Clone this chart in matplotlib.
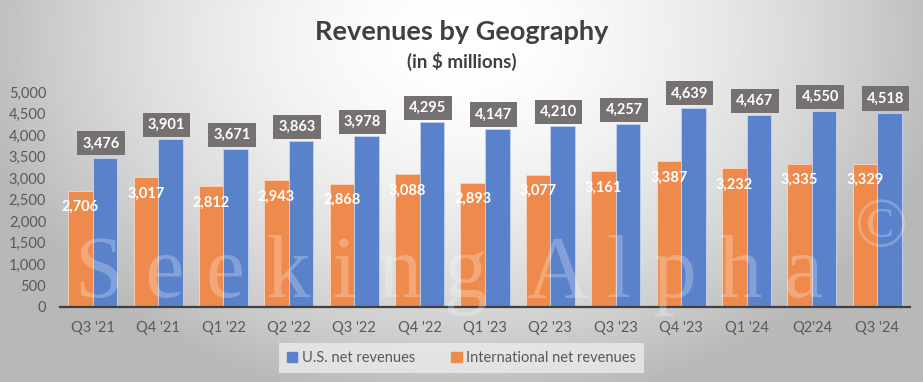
import numpy as np
import matplotlib.pyplot as plt
from matplotlib.patches import Patch

quarters = ["Q3 '21", "Q4 '21", "Q1 '22", "Q2 '22", "Q3 '22", "Q4 '22", "Q1 '23",
            "Q2 '23", "Q3 '23", "Q4 '23", "Q1 '24", "Q2'24", "Q3 '24"]
us_rev = [3476, 3901, 3671, 3863, 3978, 4295, 4147, 4210, 4257, 4639, 4467, 4550, 4518]
intl_rev = [2706, 3017, 2812, 2943, 2868, 3088, 2893, 3077, 3161, 3387, 3232, 3335, 3329]

blue = '#5A82CB'
orange = '#EE8B4C'

plt.rcParams['font.family'] = ['Lato', 'DejaVu Sans']

fig = plt.figure(figsize=(9.23, 3.82), dpi=100)

# radial gray background
bg = fig.add_axes([0, 0, 1, 1])
yy, xx = np.mgrid[0:1:200j, 0:1:400j]
d = np.sqrt(((xx - 0.5) / 0.55) ** 2 + ((yy - 0.1) / 1.0) ** 2)
shade = np.clip(1 - 0.29 * d ** 1.7, 0.72, 1)
bg.imshow(shade, cmap='gray', vmin=0, vmax=1, aspect='auto', extent=[0, 1, 1, 0])
bg.axis('off')

ax = fig.add_axes([60 / 923, 75 / 382, 850 / 923, 215 / 382])
ax.patch.set_alpha(0)

x = np.arange(len(quarters))
w = 0.375
ax.bar(x - w / 2, intl_rev, w, color=orange, edgecolor='#F6D8C4', linewidth=0.6, zorder=2)
ax.bar(x + w / 2, us_rev, w, color=blue, edgecolor='#C5D3EE', linewidth=0.6, zorder=2)

for i in range(len(quarters)):
    ax.text(x[i] + w / 2 - 0.06, us_rev[i] + 330, f"{us_rev[i]:,}", ha='center', va='center',
            color='white', fontsize=10.5, fontweight='bold', zorder=4, clip_on=False,
            bbox=dict(boxstyle='square,pad=0.35', fc='#767171', ec='none'))
    ax.text(x[i] - w / 2, intl_rev[i] - 380, f"{intl_rev[i]:,}", ha='center', va='center',
            color='white', fontsize=10.5, fontweight='bold', zorder=4)

# watermark
fig.text(75 / 923, 85 / 382, "S e e k i n g  A l p h a", fontsize=63,
         family='Liberation Serif', color='white', alpha=0.25, ha='left', va='baseline', zorder=3)
fig.text(0.955, 0.40, "\u00a9", fontsize=50,
         family='Liberation Serif', color='white', alpha=0.25, ha='center', va='center', zorder=3)

ax.set_xlim(-0.5, len(quarters) - 0.5)
ax.set_ylim(0, 5000)
ax.set_yticks(np.arange(0, 5001, 500))
ax.set_yticklabels([f"{v:,}" for v in range(0, 5001, 500)])
ax.set_xticks(x)
ax.set_xticklabels(quarters)
ax.tick_params(axis='both', length=0, labelsize=10.5, colors='#595959')
ax.tick_params(axis='x', pad=10)
ax.tick_params(axis='y', pad=10)
for s in ['top', 'right', 'left']:
    ax.spines[s].set_visible(False)
ax.spines['bottom'].set_color('#404040')
ax.spines['bottom'].set_linewidth(1.6)
ax.spines['bottom'].set_zorder(5)

fig.text(0.5, 0.915, "Revenues by Geography", ha='center', va='center',
         fontsize=19.5, fontweight='bold', color='#404040')
fig.text(0.5, 0.84, "(in $ millions)", ha='center', va='center',
         fontsize=13.5, fontweight='bold', color='#404040')

handles = [Patch(color=blue, label='U.S. net revenues'),
           Patch(color=orange, label='International net revenues')]
leg = fig.legend(handles=handles, loc='center', bbox_to_anchor=(0.5, 0.063), ncol=2,
                 frameon=True, fontsize=10.5, handlelength=0.7, handleheight=0.7,
                 handletextpad=0.3, columnspacing=2.5, borderpad=0.55, fancybox=False)
leg.get_frame().set_facecolor('#EBEBEB')
leg.get_frame().set_edgecolor('none')
leg.get_frame().set_alpha(0.8)
for t in leg.get_texts():
    t.set_color('#595959')

fig.savefig('out.png', dpi=100)
